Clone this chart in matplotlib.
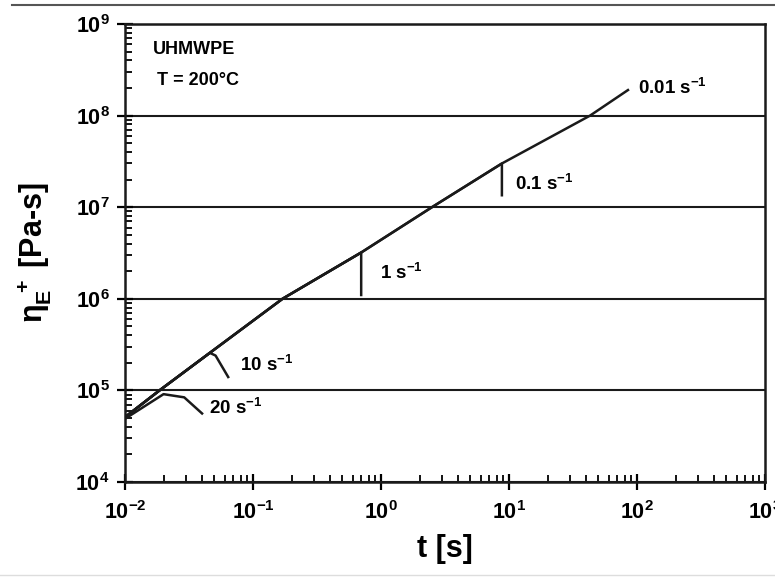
import math
import matplotlib
matplotlib.use('Agg')
import matplotlib.pyplot as plt
from matplotlib.lines import Line2D
from matplotlib.ticker import LogLocator, FuncFormatter, NullFormatter

plt.rcParams['font.family'] = ['Liberation Sans', 'DejaVu Sans']
plt.rcParams['font.weight'] = 'bold'
plt.rcParams['axes.unicode_minus'] = False
plt.rcParams['mathtext.fontset'] = 'custom'
plt.rcParams['mathtext.rm'] = 'Liberation Sans:bold'
plt.rcParams['mathtext.it'] = 'Liberation Sans:bold'
plt.rcParams['mathtext.bf'] = 'Liberation Sans:bold'

# strain rates and the transient elongational viscosity curves
rates = ['0.01', '0.1', '1', '10', '20']

t_001 = [0.01, 0.0186, 0.046, 0.17, 0.70, 2.5, 8.8, 43, 85]
eta_001 = [5.1e4, 1.0e5, 2.57e5, 1.0e6, 3.2e6, 1.0e7, 3.0e7, 1.0e8, 1.9e8]

t_01 = [0.01, 0.0186, 0.046, 0.17, 0.70, 2.5, 8.8, 8.8]
eta_01 = [5.1e4, 1.0e5, 2.57e5, 1.0e6, 3.2e6, 1.0e7, 3.0e7, 1.35e7]

t_1 = [0.01, 0.0186, 0.046, 0.17, 0.70, 0.70]
eta_1 = [5.1e4, 1.0e5, 2.57e5, 1.0e6, 3.2e6, 1.1e6]

t_10 = [0.01, 0.0186, 0.046, 0.051, 0.064]
eta_10 = [5.1e4, 1.0e5, 2.57e5, 2.4e5, 1.4e5]

t_20 = [0.01, 0.020, 0.029, 0.040]
eta_20 = [4.9e4, 9.1e4, 8.4e4, 5.6e4]

# label anchor points (t, eta) for each rate
label_t = [102, 11.2, 0.98, 0.079, 0.045]
label_eta = [2.0e8, 1.8e7, 1.9e6, 1.9e5, 6.5e4]

fig = plt.figure(figsize=(7.75, 5.82), dpi=100)
ax = fig.add_axes([0.1613, 0.1718, 0.8258, 0.787])

curves = [(t_001, eta_001), (t_01, eta_01), (t_1, eta_1), (t_10, eta_10), (t_20, eta_20)]
for t, eta in curves:
    ax.plot(t, eta, color='#1a1a1a', lw=1.8, solid_joinstyle='round')

for r, lt, le in zip(rates, label_t, label_eta):
    ax.text(lt, le, r + r' s$^{-1}$', fontsize=13.5, fontweight='bold',
            ha='left', va='center')

ax.text(0.0165, 5.2e8, 'UHMWPE', fontsize=13, fontweight='bold', ha='left', va='center')
ax.text(0.0178, 2.4e8, 'T = 200°C', fontsize=13, fontweight='bold', ha='left', va='center')

ax.set_xscale('log')
ax.set_yscale('log')
ax.set_xlim(1e-2, 1e3)
ax.set_ylim(1e4, 1e9)

ax.xaxis.set_major_locator(LogLocator(base=10, numticks=10))
ax.yaxis.set_major_locator(LogLocator(base=10, numticks=10))
ax.xaxis.set_minor_locator(LogLocator(base=10, subs=range(2, 10), numticks=20))
ax.yaxis.set_minor_locator(LogLocator(base=10, subs=range(2, 10), numticks=20))
ax.xaxis.set_minor_formatter(NullFormatter())
ax.yaxis.set_minor_formatter(NullFormatter())
fmt = FuncFormatter(lambda v, p: r'$\mathbf{10^{%d}}$' % round(math.log10(v)))
ax.xaxis.set_major_formatter(fmt)
ax.yaxis.set_major_formatter(fmt)

ax.yaxis.grid(True, which='major', color='#1a1a1a', lw=1.5)
ax.tick_params(which='major', direction='inout', length=12, width=1.6,
               labelsize=15.5, top=False, right=False)
ax.tick_params(axis='x', which='major', pad=8)
ax.tick_params(axis='y', which='major', pad=5)
ax.tick_params(which='minor', direction='in', length=5, width=1.3, top=False, right=False)
for s in ax.spines.values():
    s.set_linewidth(1.8)
    s.set_color('#1a1a1a')

ax.set_xlabel('t [s]', fontsize=22, fontweight='bold', labelpad=7)
ax.set_ylabel(r'$\eta_E^{\ +}$ [Pa-s]', fontsize=22, fontweight='bold', labelpad=16)

# page rules at top and bottom of the scan
fig.add_artist(Line2D([0.015, 1.0], [0.991, 0.991], color='#555555', lw=1.5))
fig.add_artist(Line2D([0.0, 1.0], [0.012, 0.012], color='#dddddd', lw=1.0))

fig.savefig('out.png', dpi=100)
